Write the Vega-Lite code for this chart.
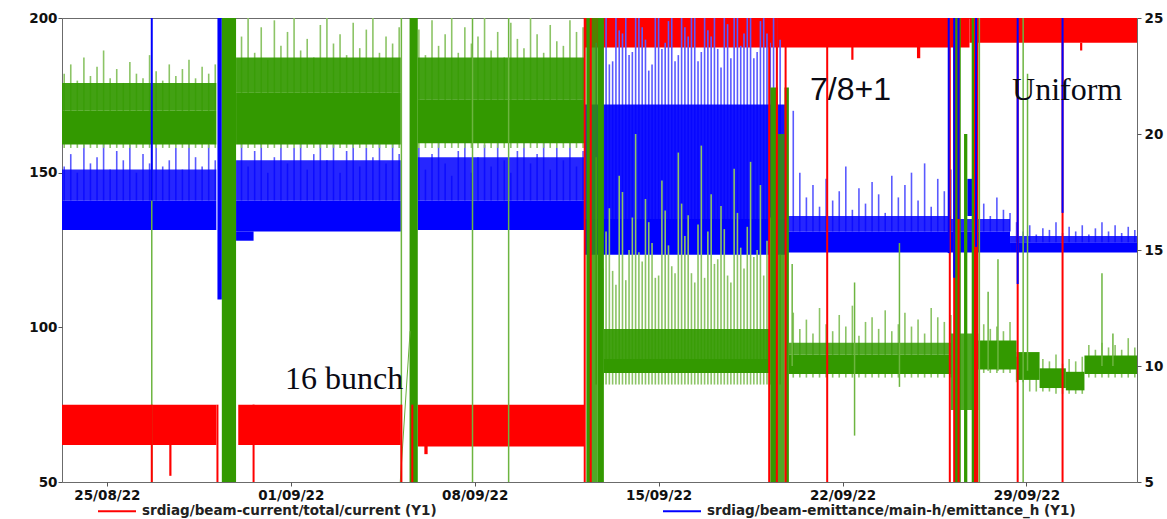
{
"$schema":"https://vega.github.io/schema/vega-lite/v6.json",
"width":1075,"height":464,
"autosize":{"type":"none"},
"padding":{"left":62,"top":18,"right":30,"bottom":37},
"background":"white",
"config":{
 "view":{"stroke":"#6b6b6b","strokeWidth":1},
 "axis":{"labelFont":"DejaVu Sans","labelFontWeight":"bold","labelFontSize":13.5,"labelColor":"#111","tickColor":"#555","tickSize":4,"domain":false,"grid":false,"labelPadding":2},
 "legend":{"labelFont":"DejaVu Sans","labelFontWeight":"bold","labelFontSize":13.5,"labelColor":"#222","labelLimit":700}
},
"datasets":{
 "redBands":[
  {"k":"core","t0":"2022-08-23T07:00","t1":"2022-08-29T04:00","lo":62,"hi":75},
  {"k":"core","t0":"2022-08-30T00:00","t1":"2022-09-05T04:30","lo":62,"hi":75},
  {"k":"core","t0":"2022-09-05T20:00","t1":"2022-09-12T04:40","lo":61.5,"hi":75},
  {"k":"core","t0":"2022-09-12T04:40","t1":"2022-09-26T20:00","lo":190.5,"hi":200},
  {"k":"core","t0":"2022-09-26T20:00","t1":"2022-10-03T05:00","lo":192,"hi":200},
  {"k":"core","t0":"2022-08-27T09:00","t1":"2022-08-27T11:00","lo":52,"hi":62},
  {"k":"core","t0":"2022-09-06T02:00","t1":"2022-09-06T05:00","lo":59,"hi":62},
  {"k":"core","t0":"2022-09-22T08:00","t1":"2022-09-22T10:00","lo":186.5,"hi":191},
  {"k":"core","t0":"2022-09-24T20:00","t1":"2022-09-24T23:00","lo":187,"hi":191},
  {"k":"core","t0":"2022-10-01T01:00","t1":"2022-10-01T03:00","lo":189.5,"hi":192}
 ],
 "blueBands":[
  {"k":"mid","t0":"2022-08-23T07:00","t1":"2022-08-29T04:00","lo":141,"hi":151},
  {"k":"core","t0":"2022-08-23T07:00","t1":"2022-08-29T04:00","lo":131.5,"hi":141},
  {"k":"core","t0":"2022-08-29T05:00","t1":"2022-08-29T09:00","lo":109,"hi":200},
  {"k":"mid","t0":"2022-08-29T22:00","t1":"2022-09-05T04:30","lo":141,"hi":154},
  {"k":"core","t0":"2022-08-29T22:00","t1":"2022-09-05T04:30","lo":131,"hi":141},
  {"k":"core","t0":"2022-08-29T22:00","t1":"2022-08-30T14:00","lo":128,"hi":131},
  {"k":"mid","t0":"2022-09-05T20:00","t1":"2022-09-12T04:40","lo":141,"hi":155},
  {"k":"core","t0":"2022-09-05T20:00","t1":"2022-09-12T04:40","lo":131.5,"hi":141},
  {"k":"dense","t0":"2022-09-12T04:40","t1":"2022-09-19T21:00","lo":133,"hi":172},
  {"k":"core","t0":"2022-09-12T04:40","t1":"2022-09-19T21:00","lo":123.5,"hi":135},
  {"k":"mid","t0":"2022-09-19T21:00","t1":"2022-09-26T03:00","lo":131,"hi":136},
  {"k":"core","t0":"2022-09-19T21:00","t1":"2022-09-26T03:00","lo":124.2,"hi":131},
  {"k":"mid","t0":"2022-09-26T03:00","t1":"2022-09-28T09:00","lo":131,"hi":135},
  {"k":"core","t0":"2022-09-26T03:00","t1":"2022-09-28T09:00","lo":124.2,"hi":131},
  {"k":"core","t0":"2022-09-26T18:00","t1":"2022-09-27T00:00","lo":136,"hi":148},
  {"k":"mid","t0":"2022-09-28T09:00","t1":"2022-10-03T05:00","lo":127.5,"hi":129.5},
  {"k":"core","t0":"2022-09-28T09:00","t1":"2022-10-03T05:00","lo":124.2,"hi":127.5}
 ],
 "greenBands":[
  {"k":"core","t0":"2022-08-23T07:00","t1":"2022-08-29T04:00","lo":19.55,"hi":21.0},
  {"k":"dense","t0":"2022-08-23T07:00","t1":"2022-08-29T04:00","lo":21.0,"hi":22.2},
  {"k":"core","t0":"2022-08-29T09:00","t1":"2022-08-29T22:00","lo":5,"hi":25},
  {"k":"core","t0":"2022-08-29T22:00","t1":"2022-09-05T04:30","lo":19.55,"hi":21.8},
  {"k":"dense","t0":"2022-08-29T22:00","t1":"2022-09-05T04:30","lo":21.8,"hi":23.3},
  {"k":"core","t0":"2022-09-05T12:30","t1":"2022-09-05T20:00","lo":5,"hi":25},
  {"k":"core","t0":"2022-09-05T20:00","t1":"2022-09-12T04:40","lo":19.6,"hi":21.5},
  {"k":"dense","t0":"2022-09-05T20:00","t1":"2022-09-12T04:40","lo":21.5,"hi":23.3},
  {"k":"core","t0":"2022-09-12T06:00","t1":"2022-09-12T11:00","lo":5,"hi":25},
  {"k":"mid","t0":"2022-09-12T11:00","t1":"2022-09-12T16:00","lo":5,"hi":25},
  {"k":"core","t0":"2022-09-12T16:00","t1":"2022-09-12T22:00","lo":5,"hi":25},
  {"k":"core","t0":"2022-09-12T22:00","t1":"2022-09-19T06:00","lo":9.7,"hi":10.3},
  {"k":"dense","t0":"2022-09-12T22:00","t1":"2022-09-19T06:00","lo":10.3,"hi":11.6},
  {"k":"core","t0":"2022-09-19T06:00","t1":"2022-09-19T13:00","lo":5,"hi":22},
  {"k":"mid","t0":"2022-09-19T13:00","t1":"2022-09-19T19:00","lo":5,"hi":20},
  {"k":"core","t0":"2022-09-19T19:00","t1":"2022-09-19T23:00","lo":5,"hi":22},
  {"k":"core","t0":"2022-09-19T23:00","t1":"2022-09-26T03:00","lo":9.65,"hi":10.5},
  {"k":"mid","t0":"2022-09-19T23:00","t1":"2022-09-26T03:00","lo":10.5,"hi":11.0},
  {"k":"mid","t0":"2022-09-26T03:00","t1":"2022-09-27T04:00","lo":8.1,"hi":11.4},
  {"k":"core","t0":"2022-09-26T06:00","t1":"2022-09-26T12:00","lo":5,"hi":25},
  {"k":"core","t0":"2022-09-26T15:00","t1":"2022-09-26T18:00","lo":5,"hi":20},
  {"k":"core","t0":"2022-09-26T22:00","t1":"2022-09-27T04:00","lo":5,"hi":25},
  {"k":"core","t0":"2022-09-27T04:00","t1":"2022-09-28T15:00","lo":9.85,"hi":11.1},
  {"k":"core","t0":"2022-09-28T15:00","t1":"2022-09-29T12:00","lo":9.4,"hi":10.6},
  {"k":"core","t0":"2022-09-29T12:00","t1":"2022-09-30T12:00","lo":9.05,"hi":9.9},
  {"k":"core","t0":"2022-09-30T12:00","t1":"2022-10-01T05:00","lo":8.95,"hi":9.75},
  {"k":"core","t0":"2022-10-01T05:00","t1":"2022-10-03T05:00","lo":9.65,"hi":10.45}
 ],
 "spikes":[
  {"t":"2022-08-23T09:00","bl":141,"bh":152,"gl":19.4,"gh":22.6},
  {"t":"2022-08-23T15:00","bl":141,"bh":156,"gl":19.4,"gh":23.0},
  {"t":"2022-08-23T21:00","bl":141,"bh":150,"gl":19.4,"gh":22.3},
  {"t":"2022-08-24T03:00","bl":141,"bh":159,"gl":19.4,"gh":23.3},
  {"t":"2022-08-24T09:00","bl":141,"bh":153,"gl":19.4,"gh":22.5},
  {"t":"2022-08-24T15:00","bl":141,"bh":155,"gl":19.4,"gh":22.9},
  {"t":"2022-08-24T21:00","bl":141,"bh":160,"gl":19.4,"gh":23.6},
  {"t":"2022-08-25T03:00","bl":141,"bh":151,"gl":19.4,"gh":22.4},
  {"t":"2022-08-25T09:00","bl":141,"bh":157,"gl":19.4,"gh":22.8},
  {"t":"2022-08-25T15:00","bl":141,"bh":154,"gl":19.4,"gh":22.2},
  {"t":"2022-08-25T21:00","bl":141,"bh":159,"gl":19.4,"gh":23.1},
  {"t":"2022-08-26T03:00","bl":141,"bh":150,"gl":19.4,"gh":22.6},
  {"t":"2022-08-26T09:00","bl":141,"bh":156,"gl":19.4,"gh":22.4},
  {"t":"2022-08-26T15:00","bl":141,"bh":153,"gl":19.4,"gh":23.4},
  {"t":"2022-08-26T21:00","bl":141,"bh":160,"gl":19.4,"gh":22.7},
  {"t":"2022-08-27T03:00","bl":141,"bh":152,"gl":19.4,"gh":22.3},
  {"t":"2022-08-27T09:00","bl":141,"bh":154,"gl":19.4,"gh":23.0},
  {"t":"2022-08-27T15:00","bl":141,"bh":158,"gl":19.4,"gh":22.5},
  {"t":"2022-08-27T21:00","bl":141,"bh":151,"gl":19.4,"gh":22.8},
  {"t":"2022-08-28T03:00","bl":141,"bh":160,"gl":19.4,"gh":23.2},
  {"t":"2022-08-28T09:00","bl":141,"bh":155,"gl":19.4,"gh":22.4},
  {"t":"2022-08-28T15:00","bl":141,"bh":152,"gl":19.4,"gh":22.9},
  {"t":"2022-08-28T21:00","bl":141,"bh":159,"gl":19.4,"gh":22.6},
  {"t":"2022-08-29T03:00","bl":141,"bh":154,"gl":19.4,"gh":23.0},
  {"t":"2022-08-30T03:00","bl":141,"bh":160,"gl":19.4,"gh":24.2},
  {"t":"2022-08-30T09:00","bl":141,"bh":152,"gl":19.4,"gh":25},
  {"t":"2022-08-30T15:00","bl":141,"bh":157,"gl":19.4,"gh":23.5},
  {"t":"2022-08-30T21:00","bl":141,"bh":163,"gl":19.4,"gh":24.6},
  {"t":"2022-08-31T03:00","bl":141,"bh":150,"gl":19.4,"gh":23.2},
  {"t":"2022-08-31T09:00","bl":141,"bh":155,"gl":19.4,"gh":24.9},
  {"t":"2022-08-31T15:00","bl":141,"bh":161,"gl":19.4,"gh":23.8},
  {"t":"2022-08-31T21:00","bl":141,"bh":153,"gl":19.4,"gh":24.4},
  {"t":"2022-09-01T03:00","bl":141,"bh":158,"gl":19.4,"gh":25},
  {"t":"2022-09-01T09:00","bl":141,"bh":165,"gl":19.4,"gh":23.6},
  {"t":"2022-09-01T15:00","bl":141,"bh":151,"gl":19.4,"gh":24.1},
  {"t":"2022-09-01T21:00","bl":141,"bh":156,"gl":19.4,"gh":23.3},
  {"t":"2022-09-02T03:00","bl":141,"bh":162,"gl":19.4,"gh":24.7},
  {"t":"2022-09-02T09:00","bl":141,"bh":154,"gl":19.4,"gh":25},
  {"t":"2022-09-02T15:00","bl":141,"bh":159,"gl":19.4,"gh":23.9},
  {"t":"2022-09-02T21:00","bl":141,"bh":150,"gl":19.4,"gh":24.3},
  {"t":"2022-09-03T03:00","bl":141,"bh":157,"gl":19.4,"gh":23.4},
  {"t":"2022-09-03T09:00","bl":141,"bh":164,"gl":19.4,"gh":24.8},
  {"t":"2022-09-03T15:00","bl":141,"bh":152,"gl":19.4,"gh":23.7},
  {"t":"2022-09-03T21:00","bl":141,"bh":158,"gl":19.4,"gh":24.5},
  {"t":"2022-09-04T03:00","bl":141,"bh":155,"gl":19.4,"gh":25},
  {"t":"2022-09-04T09:00","bl":141,"bh":161,"gl":19.4,"gh":23.5},
  {"t":"2022-09-04T15:00","bl":141,"bh":153,"gl":19.4,"gh":24.2},
  {"t":"2022-09-04T21:00","bl":141,"bh":160,"gl":19.4,"gh":23.9},
  {"t":"2022-09-05T03:00","bl":141,"bh":156,"gl":19.4,"gh":24.6},
  {"t":"2022-09-05T21:00","bl":141,"bh":158,"gl":19.4,"gh":24.5},
  {"t":"2022-09-06T03:00","bl":141,"bh":151,"gl":19.4,"gh":23.4},
  {"t":"2022-09-06T09:00","bl":141,"bh":156,"gl":19.4,"gh":24.9},
  {"t":"2022-09-06T15:00","bl":141,"bh":160,"gl":19.4,"gh":23.8},
  {"t":"2022-09-06T21:00","bl":141,"bh":153,"gl":19.4,"gh":24.3},
  {"t":"2022-09-07T03:00","bl":141,"bh":149,"gl":19.4,"gh":25},
  {"t":"2022-09-07T09:00","bl":141,"bh":157,"gl":19.4,"gh":23.5},
  {"t":"2022-09-07T15:00","bl":141,"bh":162,"gl":19.4,"gh":24.6},
  {"t":"2022-09-07T21:00","bl":141,"bh":150,"gl":19.4,"gh":23.9},
  {"t":"2022-09-08T03:00","bl":141,"bh":155,"gl":19.4,"gh":24.2},
  {"t":"2022-09-08T09:00","bl":141,"bh":159,"gl":19.4,"gh":25},
  {"t":"2022-09-08T15:00","bl":141,"bh":152,"gl":19.4,"gh":23.6},
  {"t":"2022-09-08T21:00","bl":141,"bh":161,"gl":19.4,"gh":24.4},
  {"t":"2022-09-09T03:00","bl":141,"bh":154,"gl":19.4,"gh":23.3},
  {"t":"2022-09-09T09:00","bl":141,"bh":150,"gl":19.4,"gh":24.8},
  {"t":"2022-09-09T15:00","bl":141,"bh":157,"gl":19.4,"gh":24.1},
  {"t":"2022-09-09T21:00","bl":141,"bh":160,"gl":19.4,"gh":23.7},
  {"t":"2022-09-10T03:00","bl":141,"bh":153,"gl":19.4,"gh":25},
  {"t":"2022-09-10T09:00","bl":141,"bh":156,"gl":19.4,"gh":24.3},
  {"t":"2022-09-10T15:00","bl":141,"bh":162,"gl":19.4,"gh":23.5},
  {"t":"2022-09-10T21:00","bl":141,"bh":151,"gl":19.4,"gh":24.7},
  {"t":"2022-09-11T03:00","bl":141,"bh":158,"gl":19.4,"gh":24.0},
  {"t":"2022-09-11T09:00","bl":141,"bh":154,"gl":19.4,"gh":23.8},
  {"t":"2022-09-11T15:00","bl":141,"bh":160,"gl":19.4,"gh":24.9},
  {"t":"2022-09-11T21:00","bl":141,"bh":152,"gl":19.4,"gh":24.4},
  {"t":"2022-09-12T03:00","bl":141,"bh":157,"gl":19.4,"gh":24.6},
  {"t":"2022-09-12T09:00","bl":133,"bh":200,"gl":9.2,"gh":15.5},
  {"t":"2022-09-12T15:00","bl":133,"bh":192,"gl":9.2,"gh":19},
  {"t":"2022-09-12T18:00","bl":133,"bh":190,"gl":9.2,"gh":13.2},
  {"t":"2022-09-12T21:00","bl":133,"bh":198,"gl":9.2,"gh":14.2},
  {"t":"2022-09-13T00:00","bl":133,"bh":200,"gl":9.2,"gh":15.8},
  {"t":"2022-09-13T03:00","bl":133,"bh":185,"gl":9.2,"gh":16.8},
  {"t":"2022-09-13T06:00","bl":133,"bh":186,"gl":9.2,"gh":14.1},
  {"t":"2022-09-13T09:00","bl":133,"bh":200,"gl":9.2,"gh":13.5},
  {"t":"2022-09-13T12:00","bl":133,"bh":196,"gl":9.2,"gh":18.2},
  {"t":"2022-09-13T15:00","bl":133,"bh":195,"gl":9.2,"gh":17.5},
  {"t":"2022-09-13T18:00","bl":133,"bh":200,"gl":9.2,"gh":13.7},
  {"t":"2022-09-13T21:00","bl":133,"bh":188,"gl":9.2,"gh":15},
  {"t":"2022-09-14T00:00","bl":133,"bh":189,"gl":9.2,"gh":16.4},
  {"t":"2022-09-14T03:00","bl":133,"bh":200,"gl":9.2,"gh":20},
  {"t":"2022-09-14T06:00","bl":133,"bh":200,"gl":9.2,"gh":14.9},
  {"t":"2022-09-14T09:00","bl":133,"bh":197,"gl":9.2,"gh":14.5},
  {"t":"2022-09-14T12:00","bl":133,"bh":193,"gl":9.2,"gh":17.2},
  {"t":"2022-09-14T15:00","bl":133,"bh":183,"gl":9.2,"gh":16.2},
  {"t":"2022-09-14T18:00","bl":133,"bh":185,"gl":9.2,"gh":15.3},
  {"t":"2022-09-14T21:00","bl":133,"bh":200,"gl":9.2,"gh":13.8},
  {"t":"2022-09-15T00:00","bl":133,"bh":200,"gl":9.2,"gh":13.9},
  {"t":"2022-09-15T03:00","bl":133,"bh":190,"gl":9.2,"gh":18},
  {"t":"2022-09-15T06:00","bl":133,"bh":192,"gl":9.2,"gh":16.7},
  {"t":"2022-09-15T09:00","bl":133,"bh":199,"gl":9.2,"gh":15.2},
  {"t":"2022-09-15T12:00","bl":133,"bh":200,"gl":9.2,"gh":14.3},
  {"t":"2022-09-15T15:00","bl":133,"bh":186,"gl":9.2,"gh":14},
  {"t":"2022-09-15T18:00","bl":133,"bh":188,"gl":9.2,"gh":19.2},
  {"t":"2022-09-15T21:00","bl":133,"bh":200,"gl":9.2,"gh":17},
  {"t":"2022-09-16T00:00","bl":133,"bh":197,"gl":9.2,"gh":15.6},
  {"t":"2022-09-16T03:00","bl":133,"bh":194,"gl":9.2,"gh":16.5},
  {"t":"2022-09-16T06:00","bl":133,"bh":200,"gl":9.2,"gh":14.0},
  {"t":"2022-09-16T09:00","bl":133,"bh":200,"gl":9.2,"gh":13.6},
  {"t":"2022-09-16T12:00","bl":133,"bh":186,"gl":9.2,"gh":16.1},
  {"t":"2022-09-16T15:00","bl":133,"bh":189,"gl":9.2,"gh":19.5},
  {"t":"2022-09-16T18:00","bl":133,"bh":200,"gl":9.2,"gh":13.8},
  {"t":"2022-09-16T21:00","bl":133,"bh":196,"gl":9.2,"gh":15.8},
  {"t":"2022-09-17T00:00","bl":133,"bh":194,"gl":9.2,"gh":17.4},
  {"t":"2022-09-17T03:00","bl":133,"bh":200,"gl":9.2,"gh":14.4},
  {"t":"2022-09-17T06:00","bl":133,"bh":190,"gl":9.2,"gh":14.6},
  {"t":"2022-09-17T09:00","bl":133,"bh":184,"gl":9.2,"gh":16.9},
  {"t":"2022-09-17T12:00","bl":133,"bh":200,"gl":9.2,"gh":15.9},
  {"t":"2022-09-17T15:00","bl":133,"bh":198,"gl":9.2,"gh":13.9},
  {"t":"2022-09-17T18:00","bl":133,"bh":187,"gl":9.2,"gh":13.6},
  {"t":"2022-09-17T21:00","bl":133,"bh":200,"gl":9.2,"gh":18.5},
  {"t":"2022-09-18T00:00","bl":133,"bh":200,"gl":9.2,"gh":16.6},
  {"t":"2022-09-18T03:00","bl":133,"bh":191,"gl":9.2,"gh":15.1},
  {"t":"2022-09-18T06:00","bl":133,"bh":195,"gl":9.2,"gh":14.2},
  {"t":"2022-09-18T09:00","bl":133,"bh":200,"gl":9.2,"gh":16},
  {"t":"2022-09-18T12:00","bl":133,"bh":200,"gl":9.2,"gh":18.8},
  {"t":"2022-09-18T15:00","bl":133,"bh":187,"gl":9.2,"gh":14.7},
  {"t":"2022-09-18T18:00","bl":133,"bh":189,"gl":9.2,"gh":15.0},
  {"t":"2022-09-18T21:00","bl":133,"bh":199,"gl":9.2,"gh":17.8},
  {"t":"2022-09-19T00:00","bl":133,"bh":200,"gl":9.2,"gh":13.9},
  {"t":"2022-09-19T03:00","bl":133,"bh":195,"gl":9.2,"gh":15.4},
  {"t":"2022-09-19T06:00","bl":133,"bh":192,"gl":9.2,"gh":16.4},
  {"t":"2022-09-19T09:00","bl":133,"bh":200,"gl":9.2,"gh":16.3},
  {"t":"2022-09-19T12:00","bl":133,"bh":200,"gl":9.2,"gh":15.2},
  {"t":"2022-09-19T15:00","bl":133,"bh":193,"gl":9.2,"gh":14.8},
  {"t":"2022-09-20T03:00","bl":131,"bh":170,"gl":9.5,"gh":12.3},
  {"t":"2022-09-20T09:00","bl":131,"bh":150,"gl":9.5,"gh":11.6},
  {"t":"2022-09-20T15:00","bl":131,"bh":142,"gl":9.5,"gh":12.0},
  {"t":"2022-09-20T21:00","bl":131,"bh":146,"gl":9.5,"gh":11.4},
  {"t":"2022-09-21T03:00","bl":131,"bh":139,"gl":9.5,"gh":12.5},
  {"t":"2022-09-21T09:00","bl":131,"bh":148,"gl":9.5,"gh":11.8},
  {"t":"2022-09-21T15:00","bl":131,"bh":141,"gl":9.5,"gh":11.5},
  {"t":"2022-09-21T21:00","bl":131,"bh":144,"gl":9.5,"gh":12.2},
  {"t":"2022-09-22T03:00","bl":131,"bh":152,"gl":9.5,"gh":11.7},
  {"t":"2022-09-22T09:00","bl":131,"bh":138,"gl":9.5,"gh":12.6},
  {"t":"2022-09-22T15:00","bl":131,"bh":145,"gl":9.5,"gh":11.3},
  {"t":"2022-09-22T21:00","bl":131,"bh":140,"gl":9.5,"gh":11.9},
  {"t":"2022-09-23T03:00","bl":131,"bh":147,"gl":9.5,"gh":12.1},
  {"t":"2022-09-23T09:00","bl":131,"bh":143,"gl":9.5,"gh":11.6},
  {"t":"2022-09-23T15:00","bl":131,"bh":137,"gl":9.5,"gh":12.4},
  {"t":"2022-09-23T21:00","bl":131,"bh":149,"gl":9.5,"gh":11.5},
  {"t":"2022-09-24T03:00","bl":131,"bh":142,"gl":9.5,"gh":11.8},
  {"t":"2022-09-24T09:00","bl":131,"bh":146,"gl":9.5,"gh":12.3},
  {"t":"2022-09-24T15:00","bl":131,"bh":150,"gl":9.5,"gh":11.7},
  {"t":"2022-09-24T21:00","bl":131,"bh":141,"gl":9.5,"gh":12.0},
  {"t":"2022-09-25T03:00","bl":131,"bh":153,"gl":9.5,"gh":11.4},
  {"t":"2022-09-25T09:00","bl":131,"bh":139,"gl":9.5,"gh":12.5},
  {"t":"2022-09-25T15:00","bl":131,"bh":148,"gl":9.5,"gh":12.1},
  {"t":"2022-09-25T21:00","bl":131,"bh":144,"gl":9.5,"gh":11.9},
  {"t":"2022-09-26T03:00","bl":131,"bh":151,"gl":9.5,"gh":12.2},
  {"t":"2022-09-27T09:00","bl":131,"bh":140,"gl":9.7,"gh":11.8},
  {"t":"2022-09-27T15:00","bl":131,"bh":136,"gl":9.7,"gh":11.6},
  {"t":"2022-09-27T21:00","bl":131,"bh":142,"gl":9.7,"gh":11.7},
  {"t":"2022-09-28T03:00","bl":131,"bh":138,"gl":9.7,"gh":11.5},
  {"t":"2022-09-28T09:00","bl":131,"bh":137,"gl":9.7,"gh":11.9},
  {"t":"2022-09-28T15:00","bl":127.5,"bh":134,"gl":9.3,"gh":10.4},
  {"t":"2022-09-28T21:00","bl":127.5,"bh":131,"gl":9.3,"gh":10.2},
  {"t":"2022-09-29T03:00","bl":127.5,"bh":133,"gl":8.9,"gh":10.4},
  {"t":"2022-09-29T09:00","bl":127.5,"bh":130,"gl":8.9,"gh":10.1},
  {"t":"2022-09-29T15:00","bl":127.5,"bh":132,"gl":8.9,"gh":10.3},
  {"t":"2022-09-29T21:00","bl":127.5,"bh":131.5,"gl":8.9,"gh":10.2},
  {"t":"2022-09-30T03:00","bl":127.5,"bh":134,"gl":8.8,"gh":10.5},
  {"t":"2022-09-30T09:00","bl":127.5,"bh":130.5,"gl":8.8,"gh":10.1},
  {"t":"2022-09-30T15:00","bl":127.5,"bh":132.5,"gl":8.8,"gh":10.3},
  {"t":"2022-09-30T21:00","bl":127.5,"bh":131,"gl":8.8,"gh":10.2},
  {"t":"2022-10-01T03:00","bl":127.5,"bh":133,"gl":8.8,"gh":10.4},
  {"t":"2022-10-01T09:00","bl":127.5,"bh":130,"gl":9.5,"gh":10.9},
  {"t":"2022-10-01T15:00","bl":127.5,"bh":132,"gl":9.5,"gh":10.7},
  {"t":"2022-10-01T21:00","bl":127.5,"bh":134,"gl":9.5,"gh":11.0},
  {"t":"2022-10-02T03:00","bl":127.5,"bh":131,"gl":9.5,"gh":10.8},
  {"t":"2022-10-02T09:00","bl":127.5,"bh":133,"gl":9.5,"gh":10.9},
  {"t":"2022-10-02T15:00","bl":127.5,"bh":130.5,"gl":9.5,"gh":10.7},
  {"t":"2022-10-02T21:00","bl":127.5,"bh":132.5,"gl":9.5,"gh":11.2},
  {"t":"2022-10-03T03:00","bl":127.5,"bh":131.5,"gl":9.5,"gh":10.8}
 ],
 "greenDrops":[
  {"t":"2022-08-26T17:00","lo":5,"hi":19.6},
  {"t":"2022-09-05T05:00","lo":5,"hi":25},
  {"t":"2022-09-07T22:00","lo":5,"hi":25},
  {"t":"2022-09-09T07:00","lo":5,"hi":25},
  {"t":"2022-09-20T02:00","lo":10,"hi":14.4},
  {"t":"2022-09-22T11:00","lo":7,"hi":13.6},
  {"t":"2022-09-24T04:00","lo":9.1,"hi":15.3},
  {"t":"2022-09-27T05:00","lo":5,"hi":25},
  {"t":"2022-09-27T13:00","lo":9.8,"hi":13.2},
  {"t":"2022-09-27T22:00","lo":9.8,"hi":14.6},
  {"t":"2022-09-28T21:00","lo":5,"hi":25},
  {"t":"2022-09-29T01:00","lo":9.8,"hi":22.6},
  {"t":"2022-10-01T21:00","lo":10,"hi":14},
  {"t":"2022-10-02T07:00","lo":10,"hi":11.4}
 ],
 "diag":[
  {"t":"2022-09-05T04:00","v":5},
  {"t":"2022-09-05T13:00","v":11.5}
 ],
 "drops":[
  {"s":"srdiag/beam-current/total/current (Y1)","t":"2022-08-26T17:00","lo":50,"hi":75},
  {"s":"srdiag/beam-current/total/current (Y1)","t":"2022-08-29T05:00","lo":50,"hi":75},
  {"s":"srdiag/beam-current/total/current (Y1)","t":"2022-08-30T14:00","lo":50,"hi":75},
  {"s":"srdiag/beam-current/total/current (Y1)","t":"2022-09-05T05:00","lo":50,"hi":75},
  {"s":"srdiag/beam-current/total/current (Y1)","t":"2022-09-05T15:00","lo":50,"hi":75},
  {"s":"srdiag/beam-current/total/current (Y1)","t":"2022-09-12T04:30","lo":50,"hi":200},
  {"s":"srdiag/beam-current/total/current (Y1)","t":"2022-09-12T10:00","lo":50,"hi":200},
  {"s":"srdiag/beam-current/total/current (Y1)","t":"2022-09-19T05:00","lo":50,"hi":200},
  {"s":"srdiag/beam-current/total/current (Y1)","t":"2022-09-19T12:00","lo":50,"hi":200},
  {"s":"srdiag/beam-current/total/current (Y1)","t":"2022-09-19T20:00","lo":50,"hi":200},
  {"s":"srdiag/beam-current/total/current (Y1)","t":"2022-09-21T10:00","lo":50,"hi":200},
  {"s":"srdiag/beam-current/total/current (Y1)","t":"2022-09-26T02:00","lo":50,"hi":200},
  {"s":"srdiag/beam-current/total/current (Y1)","t":"2022-09-26T06:00","lo":50,"hi":200},
  {"s":"srdiag/beam-current/total/current (Y1)","t":"2022-09-26T10:00","lo":50,"hi":200},
  {"s":"srdiag/beam-current/total/current (Y1)","t":"2022-09-27T01:00","lo":50,"hi":200},
  {"s":"srdiag/beam-current/total/current (Y1)","t":"2022-09-27T03:00","lo":50,"hi":200},
  {"s":"srdiag/beam-current/total/current (Y1)","t":"2022-09-28T16:00","lo":50,"hi":200},
  {"s":"srdiag/beam-current/total/current (Y1)","t":"2022-09-30T09:00","lo":50,"hi":200},
  {"s":"srdiag/beam-emittance/main-h/emittance_h (Y1)","t":"2022-08-26T17:00","lo":141,"hi":200},
  {"s":"srdiag/beam-emittance/main-h/emittance_h (Y1)","t":"2022-09-26T01:00","lo":124,"hi":200},
  {"s":"srdiag/beam-emittance/main-h/emittance_h (Y1)","t":"2022-09-26T06:00","lo":116,"hi":200},
  {"s":"srdiag/beam-emittance/main-h/emittance_h (Y1)","t":"2022-09-26T10:00","lo":135,"hi":200},
  {"s":"srdiag/beam-emittance/main-h/emittance_h (Y1)","t":"2022-09-27T02:00","lo":126,"hi":200},
  {"s":"srdiag/beam-emittance/main-h/emittance_h (Y1)","t":"2022-09-28T16:00","lo":114,"hi":200},
  {"s":"srdiag/beam-emittance/main-h/emittance_h (Y1)","t":"2022-09-30T09:00","lo":137,"hi":200}
 ]
},
"layer":[
 {"layer":[
  {"data":{"name":"redBands"},"mark":{"type":"rect","color":"#ff0000"},
   "encoding":{
    "x":{"field":"t0","type":"temporal","title":null,
     "scale":{"nice":false,"domain":[{"year":2022,"month":8,"date":23,"hours":7},{"year":2022,"month":10,"date":3,"hours":5}]},
     "axis":{"values":[{"year":2022,"month":8,"date":25},{"year":2022,"month":9,"date":1},{"year":2022,"month":9,"date":8},{"year":2022,"month":9,"date":15},{"year":2022,"month":9,"date":22},{"year":2022,"month":9,"date":29}],"format":"%d/%m/%y","labelPadding":2,"labelFlush":false}},
    "x2":{"field":"t1"},
    "y":{"field":"lo","type":"quantitative","title":null,"scale":{"domain":[50,200],"nice":false,"zero":false},
     "axis":{"orient":"left","values":[50,100,150,200],"labelPadding":1}},
    "y2":{"field":"hi"},
    "opacity":{"field":"k","type":"nominal","scale":{"domain":["core","dense","mid"],"range":[1,0.85,0.55]},"legend":null}
   }},
  {"data":{"name":"spikes"},"mark":{"type":"rule","color":"#5a5aff","strokeWidth":1.6},
   "encoding":{"x":{"field":"t","type":"temporal","title":null},"y":{"field":"bl","type":"quantitative","title":null},"y2":{"field":"bh"}}},
  {"data":{"name":"blueBands"},"mark":{"type":"rect","color":"#0000ff"},
   "encoding":{"x":{"field":"t0","type":"temporal","title":null},"x2":{"field":"t1"},"y":{"field":"lo","type":"quantitative","title":null},"y2":{"field":"hi"},
    "opacity":{"field":"k","type":"nominal","scale":{"domain":["core","dense","mid"],"range":[1,0.85,0.55]},"legend":null}}}
 ]},
 {"layer":[
  {"data":{"name":"spikes"},"mark":{"type":"rule","color":"#8cc466","strokeWidth":1.6},
   "encoding":{"x":{"field":"t","type":"temporal","title":null},
    "y":{"field":"gl","type":"quantitative","title":null,"scale":{"domain":[5,25],"nice":false,"zero":false},
     "axis":{"orient":"right","values":[5,10,15,20,25],"labelPadding":3}},
    "y2":{"field":"gh"}}},
  {"data":{"name":"greenBands"},"mark":{"type":"rect","color":"#339900"},
   "encoding":{"x":{"field":"t0","type":"temporal","title":null},"x2":{"field":"t1"},"y":{"field":"lo","type":"quantitative","title":null},"y2":{"field":"hi"},
    "opacity":{"field":"k","type":"nominal","scale":{"domain":["core","dense","mid"],"range":[1,0.85,0.55]},"legend":null}}},
  {"data":{"name":"greenDrops"},"mark":{"type":"rule","color":"#6db540","strokeWidth":1.5},
   "encoding":{"x":{"field":"t","type":"temporal","title":null},"y":{"field":"lo","type":"quantitative","title":null},"y2":{"field":"hi"}}},
  {"data":{"name":"diag"},"mark":{"type":"line","color":"#66b03a","strokeWidth":1},
   "encoding":{"x":{"field":"t","type":"temporal","title":null},"y":{"field":"v","type":"quantitative","title":null}}}
 ]},
 {"layer":[
  {"data":{"name":"drops"},"mark":{"type":"rule","strokeWidth":2},
   "encoding":{"x":{"field":"t","type":"temporal","title":null},
    "y":{"field":"lo","type":"quantitative","title":null,"scale":{"domain":[50,200],"nice":false,"zero":false},"axis":null},
    "y2":{"field":"hi"},
    "stroke":{"field":"s","type":"nominal",
     "scale":{"domain":["srdiag/beam-current/total/current (Y1)","srdiag/beam-emittance/main-h/emittance_h (Y1)"],"range":["#ff0000","#0000ff"]},
     "legend":{"title":null,"orient":"none","legendX":35,"legendY":473,"direction":"horizontal","columns":2,"columnPadding":222,"symbolType":"stroke","symbolSize":1444,"symbolStrokeWidth":2,"labelOffset":5,"padding":0}}}},
  {"data":{"values":[{"t":"2022-08-31T18:40","v":80,"txt":"16 bunch"},{"t":"2022-09-28T10:50","v":173.6,"txt":"Uniform"}]},
   "mark":{"type":"text","font":"Liberation Serif","fontSize":32,"align":"left","baseline":"alphabetic","color":"#0a0a14"},
   "encoding":{"x":{"field":"t","type":"temporal","title":null},"y":{"field":"v","type":"quantitative","title":null,"axis":null},"text":{"field":"txt"}}},
  {"data":{"values":[{"t":"2022-09-20T18:15","v":173.6,"txt":"7/8+1"}]},
   "mark":{"type":"text","font":"Liberation Sans","fontSize":32,"align":"left","baseline":"alphabetic","color":"#0a0a14"},
   "encoding":{"x":{"field":"t","type":"temporal","title":null},"y":{"field":"v","type":"quantitative","title":null,"axis":null},"text":{"field":"txt"}}}
 ]}
],
"resolve":{"scale":{"y":"independent"}}
}
